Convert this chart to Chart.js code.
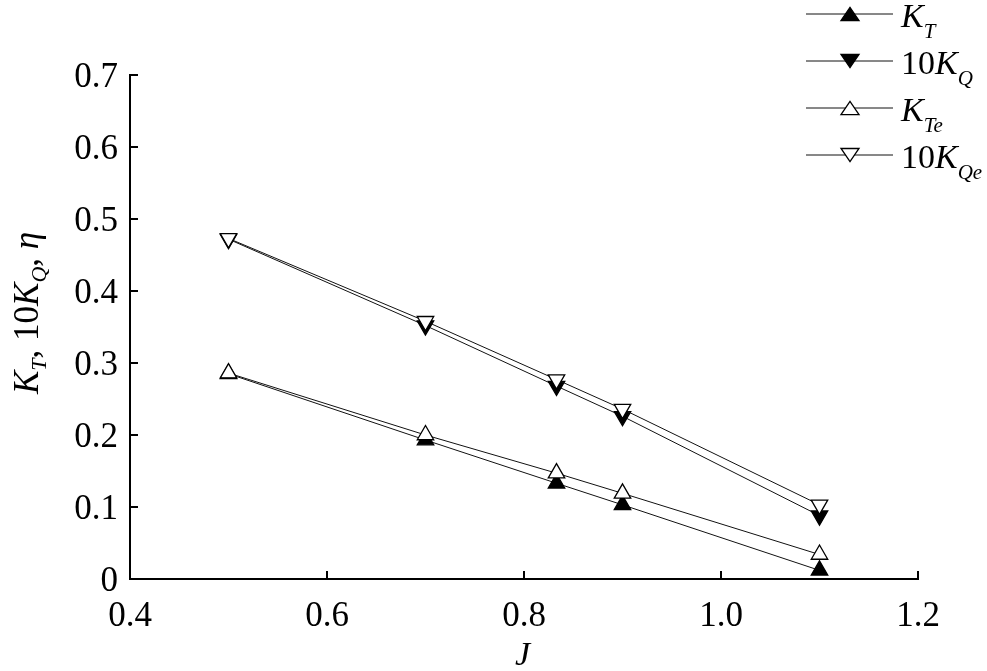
<!DOCTYPE html>
<html lang="en">

<head>
  <meta charset="UTF-8">
  <title>KT KQ vs J</title>
  <script src="https://cdn.jsdelivr.net/npm/chart.js@4.4.0/dist/chart.umd.min.js"></script>
  <style>
    html, body { margin: 0; padding: 0; background: #fff; }
    #wrap { width: 987px; height: 671px; }
  </style>
</head>

<body>
  <div id="wrap"><canvas id="kChart" width="987" height="671"></canvas></div>
  <script>
    // advance coefficient J
    const J = [0.5, 0.7, 0.833, 0.9, 1.1];
    // measured / estimated curves
    const KT = [0.285, 0.193, 0.133, 0.103, 0.012];
    const KQ10 = [0.472, 0.352, 0.268, 0.226, 0.088];
    const KTe = [0.286, 0.200, 0.147, 0.119, 0.034];
    const KQe10 = [0.473, 0.358, 0.277, 0.236, 0.103];

    const xTicks = [0.4, 0.6, 0.8, 1.0, 1.2];
    const yTicks = [0, 0.1, 0.2, 0.3, 0.4, 0.5, 0.6, 0.7];

    const serif = "'Liberation Serif', 'Times New Roman', serif";

    function pts(ys) {
      return J.map((x, i) => ({ x: x, y: ys[i] }));
    }

    function series(label, ys, filled, down, order) {
      return {
        label: label,
        data: pts(ys),
        showLine: true,
        borderColor: '#111',
        borderWidth: 1,
        pointStyle: 'triangle',
        pointRotation: down ? 180 : 0,
        pointRadius: 9.5,
        pointBorderWidth: 1.3,
        pointBorderColor: '#000',
        pointBackgroundColor: filled ? '#000' : '#fff',
        tension: 0,
        order: order
      };
    }

    // text with italic parts and subscripts
    function drawRich(ctx, parts, x, y) {
      for (const p of parts) {
        ctx.font = (p.it ? 'italic ' : '') + p.size + 'px ' + serif;
        ctx.fillText(p.t, x, y + (p.dy || 0));
        x += ctx.measureText(p.t).width + (p.gap || 0);
      }
      return x;
    }

    function tri(ctx, x, y, r, down, filled) {
      const h = r * 1.45, w = r;
      ctx.beginPath();
      if (down) {
        ctx.moveTo(x - w, y - h / 2);
        ctx.lineTo(x + w, y - h / 2);
        ctx.lineTo(x, y + h / 2);
      } else {
        ctx.moveTo(x - w, y + h / 2);
        ctx.lineTo(x + w, y + h / 2);
        ctx.lineTo(x, y - h / 2);
      }
      ctx.closePath();
      ctx.fillStyle = filled ? '#000' : '#fff';
      ctx.fill();
      ctx.lineWidth = 1.3;
      ctx.strokeStyle = '#000';
      ctx.stroke();
    }

    const decor = {
      id: 'decor',
      afterDraw(chart) {
        const ctx = chart.ctx;
        const xs = chart.scales.x, ys = chart.scales.y;
        const area = chart.chartArea;
        ctx.save();
        // inward ticks
        ctx.strokeStyle = '#000';
        ctx.lineWidth = 2;
        ctx.beginPath();
        for (const v of xTicks) {
          const px = xs.getPixelForValue(v);
          ctx.moveTo(px, area.bottom);
          ctx.lineTo(px, area.bottom - 8);
        }
        for (const v of yTicks) {
          const py = ys.getPixelForValue(v);
          ctx.moveTo(area.left, py);
          ctx.lineTo(area.left + 8, py);
        }
        ctx.stroke();

        ctx.fillStyle = '#000';
        ctx.textBaseline = 'alphabetic';
        ctx.textAlign = 'left';

        // x title
        ctx.font = 'italic 34px ' + serif;
        ctx.fillText('J', 515, 665);

        // y title (rotated)
        ctx.save();
        ctx.translate(38, 394);
        ctx.rotate(-Math.PI / 2);
        drawRich(ctx, [
          { t: 'K', it: true, size: 35 },
          { t: 'T', it: true, size: 22, dy: 8 },
          { t: ', 10', it: false, size: 35 },
          { t: 'K', it: true, size: 35 },
          { t: 'Q', it: true, size: 22, dy: 8 },
          { t: ', ', it: false, size: 35 },
          { t: 'η', it: true, size: 35 }
        ], 0, 0);
        ctx.restore();

        // legend
        const rows = [
          { y: 14, down: false, filled: true, parts: [{ t: 'K', it: true, size: 34 }, { t: 'T', it: true, size: 21, dy: 11 }] },
          { y: 61, down: true, filled: true, parts: [{ t: '10', size: 34 }, { t: 'K', it: true, size: 34 }, { t: 'Q', it: true, size: 21, dy: 11 }] },
          { y: 108, down: false, filled: false, parts: [{ t: 'K', it: true, size: 34 }, { t: 'Te', it: true, size: 21, dy: 11 }] },
          { y: 155, down: true, filled: false, parts: [{ t: '10', size: 34 }, { t: 'K', it: true, size: 34 }, { t: 'Qe', it: true, size: 21, dy: 11 }] }
        ];
        for (const r of rows) {
          ctx.strokeStyle = '#111';
          ctx.lineWidth = 1;
          ctx.beginPath();
          ctx.moveTo(806, r.y);
          ctx.lineTo(893, r.y);
          ctx.stroke();
          tri(ctx, 850, r.y, 9, r.down, r.filled);
          ctx.fillStyle = '#000';
          drawRich(ctx, r.parts, 901, r.y + 13);
        }
        ctx.restore();
      }
    };

    new Chart(document.getElementById('kChart'), {
      type: 'scatter',
      data: {
        datasets: [
          series('KT', KT, true, false, 2),
          series('10KQ', KQ10, true, true, 2),
          series('KTe', KTe, false, false, 1),
          series('10KQe', KQe10, false, true, 1)
        ]
      },
      options: {
        responsive: false,
        animation: false,
        layout: { padding: { top: 75, right: 69, left: 0, bottom: 0 } },
        plugins: {
          legend: { display: false },
          tooltip: { enabled: false }
        },
        scales: {
          x: {
            type: 'linear',
            min: 0.4,
            max: 1.2,
            afterFit: s => { s.height = 92; },
            afterBuildTicks: s => { s.ticks = xTicks.map(v => ({ value: v })); },
            grid: { drawOnChartArea: false, drawTicks: false },
            border: { display: true, color: '#000', width: 2 },
            ticks: {
              padding: 17,
              color: '#000',
              font: { family: serif, size: 35 },
              callback: v => Number(v).toFixed(1)
            }
          },
          y: {
            min: 0,
            max: 0.7,
            afterFit: s => { s.width = 130; },
            afterBuildTicks: s => { s.ticks = yTicks.map(v => ({ value: v })); },
            grid: { drawOnChartArea: false, drawTicks: false },
            border: { display: true, color: '#000', width: 2 },
            ticks: {
              padding: 12,
              labelOffset: 3,
              color: '#000',
              font: { family: serif, size: 35 },
              callback: v => v === 0 ? '0' : Number(v).toFixed(1)
            }
          }
        }
      },
      plugins: [decor]
    });
  </script>
</body>

</html>
